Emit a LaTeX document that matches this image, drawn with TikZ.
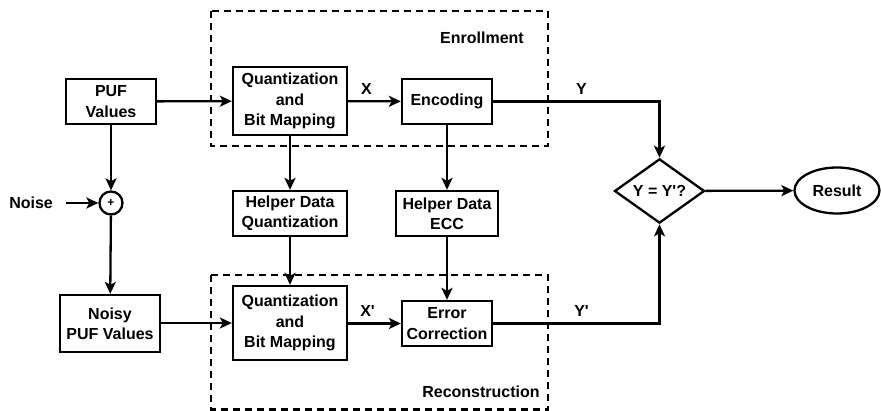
\documentclass[tikz,border=0pt]{standalone}
\usepackage{fontspec}
\setmainfont{Liberation Sans}[Ligatures=TeXOff]
\usetikzlibrary{shapes.geometric,arrows.meta}
\newcommand{\prm}{'}
\begin{document}
\begin{tikzpicture}[x=1pt,y=-1pt,
  font=\fontsize{16}{20.3}\selectfont\bfseries,
  line width=2.3pt,
  blk/.style={draw,rectangle,align=center,inner sep=0pt},
  arr/.style={-{Stealth[length=12pt,width=11pt,inset=3pt]}},
  grp/.style={draw,dashed,dash pattern=on 7pt off 5pt,line width=2.3pt},
  lbl/.style={inner sep=0pt}]
\useasboundingbox (0,0) rectangle (881,411);
% group frames
\draw[grp] (211,11) rectangle (548,146);
\draw[grp] (211,275) rectangle (548,409.5);
\node[lbl] (enl) at (482,38) {Enrollment};
\node[lbl] (rcl) at (481,392) {Reconstruction};
% nodes
\node[blk,minimum width=90,minimum height=45] (puf) at (111,101.5) {PUF\\Values};
\node[blk,minimum width=114,minimum height=68] (q1) at (290,101) {Quantization\\and\\Bit Mapping};
\node[blk,minimum width=90,minimum height=45] (enc) at (447,101.5) {Encoding};
\node[draw,circle,minimum size=23,inner sep=0pt,font=\fontsize{12}{12}\selectfont\bfseries] (plus) at (111,203) {+};
\node[lbl,anchor=east] (noise) at (54,203) {Noise};
\coordinate (nstart) at (66,203);
\node[blk,minimum width=114,minimum height=45] (hq) at (290,213.5) {Helper Data\\Quantization};
\node[blk,minimum width=102,minimum height=45] (hecc) at (447,213.5) {Helper Data\\ECC};
\node[blk,minimum width=100,minimum height=57] (noisy) at (110,323.5) {Noisy\\PUF Values};
\node[blk,minimum width=114,minimum height=74] (q2) at (290,323) {Quantization\\and\\Bit Mapping};
\node[blk,minimum width=90,minimum height=45] (ec) at (447,323.5) {Error\\Correction};
\node[draw,diamond,minimum width=90,minimum height=56,inner sep=0pt] (cmp) at (659.5,191) {Y = Y\prm?};
\node[draw,ellipse,minimum width=85,minimum height=46,inner sep=0pt] (res) at (837,190.5) {Result};
% connectors
\draw[arr] (puf) -- (q1);
\draw[arr] (q1) -- node[lbl,above=6pt,xshift=-8pt] (xl) {X} (enc);
\draw[arr] (enc.east) -| node[lbl,pos=0.5,above=6pt,xshift=-78pt] (yl) {Y} (cmp.north);
\draw[arr] (puf) -- (plus);
\draw[arr] (nstart) -- (plus);
\draw[arr] (plus) -- (noisy);
\draw[arr] (noisy.east |- q2) -- (q2);
\draw[arr] (q1) -- (hq);
\draw[arr] (hq) -- (q2);
\draw[arr] (enc) -- (hecc);
\draw[arr] (hecc) -- (ec);
\draw[arr] (q2.east |- ec) -- node[lbl,above=6pt,xshift=-7pt] (xpl) {X\prm} (ec);
\draw[arr] (ec.east) -| node[lbl,pos=0.5,above=6pt,xshift=-78pt] (ypl) {Y\prm} (cmp.south);
\draw[arr] (cmp) -- (res);
\end{tikzpicture}
\end{document}
